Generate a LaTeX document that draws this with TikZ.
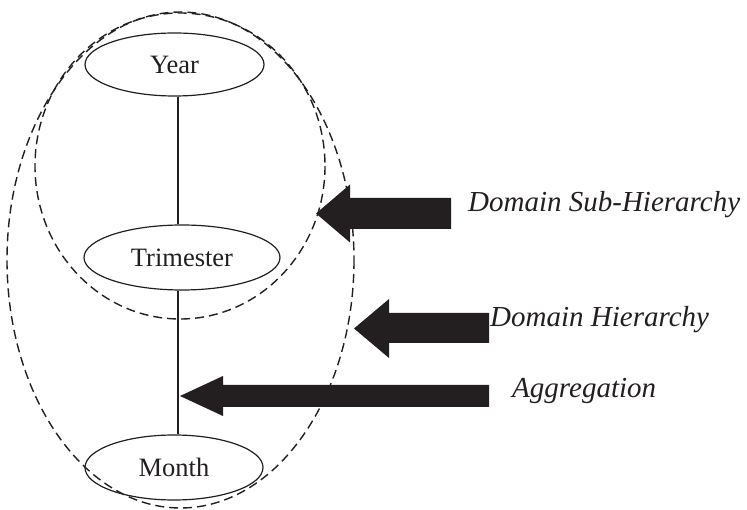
\documentclass[tikz,border=0pt]{standalone}
\usepackage{fontspec}
\setmainfont{Liberation Serif}
\usetikzlibrary{shapes.geometric}
\definecolor{ink}{RGB}{35,31,32}
\begin{document}
\begin{tikzpicture}[x=1pt,y=-1pt,
  level/.style={ellipse,draw=ink,line width=1.2pt,inner sep=0pt,
    font=\fontsize{26.5}{30}\selectfont,text=ink},
  link/.style={draw=ink,line width=1.1pt},
  region/.style={draw=ink,line width=1.4pt,dash pattern=on 9pt off 5pt},
  fatarrow/.style={fill=ink,draw=none},
  caption/.style={anchor=base west,inner sep=0pt,text=ink,
    font=\fontsize{29}{33}\selectfont\itshape}]
\useasboundingbox (0,0) rectangle (747,510);

% hierarchy levels
\node[level,minimum width=179pt,minimum height=63pt] (year) at (174.5,64.5) {Year};
\node[level,minimum width=196pt,minimum height=65pt] (trimester) at (182,257.5) {Trimester};
\node[level,minimum width=178pt,minimum height=65pt] (month) at (174,467.5) {Month};

\coordinate (axis) at (178,0);
\draw[link] (year.south -| axis) -- (trimester.north -| axis);
\draw[link] (trimester.south -| axis) -- (month.north -| axis);

% dashed groupings
\draw[region] (180.5,260) ellipse [x radius=173.5, y radius=248];
\draw[region] (180,166) ellipse [x radius=145, y radius=153];

% captions
\node[caption] (sub) at (468,212) {Domain Sub-Hierarchy};
\node[caption] (dom) at (490,327) {Domain Hierarchy};
\node[caption] (agg) at (512,398) {Aggregation};

% block arrows
\fill[fatarrow] (316,213.5) -- (350,184.5) -- (350,198) -- (451,198)
  -- (451,229) -- (350,229) -- (350,242.5) -- cycle;
\fill[fatarrow] (354,328.5) -- (389,299) -- (389,313) -- (489,313)
  -- (489,343) -- (389,343) -- (389,358) -- cycle;
\fill[fatarrow] (180,396) -- (223,376) -- (223,385) -- (489,385)
  -- (489,407) -- (223,407) -- (223,416) -- cycle;
\end{tikzpicture}
\end{document}
